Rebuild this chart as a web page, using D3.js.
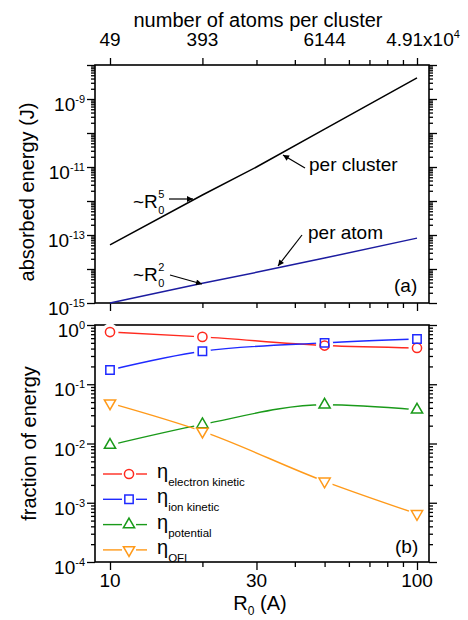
<!DOCTYPE html>
<html>
<head>
<meta charset="utf-8">
<script src="https://cdn.jsdelivr.net/npm/d3@7"></script>
<style>
  body { margin: 0; background: white; }
  text { font-family: "Liberation Sans", Arial, Helvetica, sans-serif; }
</style>
</head>
<body>
<div id="chart"></div>
<script>
// panel (a): absorbed energy vs cluster radius
const energyRadius = [10, 20, 30, 50, 100];
const perCluster = [5.1e-14, 1.5e-12, 1.0e-11, 1.3e-10, 4.2e-9];
const perAtom = [1.0e-15, 3.8e-15, 8.0e-15, 2.1e-14, 8.1e-14];

// top axis: number of atoms per cluster at given radii
const atomRadius = [10, 20, 50, 100];
const atomLabels = [["49", ""], ["393", ""], ["6144", ""], ["4.91x10", "4"]];

const energyTicks = [1e-15, 1e-13, 1e-11, 1e-9];

// panel (b): fraction of energy
const fracRadius = [10, 20, 50, 100];
const etaElectron = [0.76, 0.63, 0.45, 0.41];
const etaIon = [0.174, 0.36, 0.50, 0.58];
const etaPotential = [0.0094, 0.021, 0.045, 0.037];
const etaOFI = [0.048, 0.016, 0.0023, 0.00065];

const fracTicks = [1, 1e-1, 1e-2, 1e-3, 1e-4];
const radiusTicks = [10, 30, 100];

const seriesNames = ["electron kinetic", "ion kinetic", "potential", "OFI"];
const seriesColors = ["#ff2a1f", "#1f2aff", "#1a9a1a", "#ff9a1a"];
const seriesValues = [etaElectron, etaIon, etaPotential, etaOFI];

function draw() {
  const W = 468, H = 620;
  const L = 95, Rt = 429;
  const aTop = 65, aBot = 303;
  const bTop = 325, bBot = 562;

  const svg = d3.select("#chart").append("svg")
    .attr("width", W).attr("height", H);

  const x = d3.scaleLog().domain([10, 100]).range([110, 417]);
  const yA = d3.scaleLog().domain([1e-15, 1e-8]).range([aBot, aTop]);
  const yB = d3.scaleLog().domain([1e-4, 1]).range([bBot, bTop]);

  const isMajor = d => Math.abs(Math.log10(d) - Math.round(Math.log10(d))) < 1e-6;

  function styleAxis(g, longT, shortT, sign, vertical, majorFn) {
    g.select(".domain").remove();
    g.selectAll(".tick line")
      .attr("stroke", "#000").attr("stroke-width", 1.3)
      .attr(vertical ? "x2" : "y2", d => sign * (majorFn(d) ? longT : shortT));
  }

  function powLabel(g, px, py, base, exp, anchor) {
    const t = g.append("text")
      .attr("x", px).attr("y", py)
      .attr("text-anchor", anchor)
      .style("font-size", "19px");
    t.append("tspan").text(base);
    if (exp !== "") {
      t.append("tspan").attr("dy", -8).style("font-size", "11px").text(exp);
    }
  }

  // ---------- panel (a) ----------
  const ga = svg.append("g");

  ga.append("g").attr("transform", `translate(${L},0)`)
    .call(d3.axisLeft(yA).tickValues(yA.ticks()).tickFormat(""))
    .call(g => styleAxis(g, 8, 4, -1, true, isMajor));
  ga.append("g").attr("transform", `translate(${Rt},0)`)
    .call(d3.axisRight(yA).tickValues(yA.ticks()).tickFormat(""))
    .call(g => styleAxis(g, 8, 4, 1, true, isMajor));
  ga.append("g").attr("transform", `translate(0,${aBot})`)
    .call(d3.axisBottom(x).tickValues(x.ticks()).tickFormat(""))
    .call(g => styleAxis(g, 8, 5, 1, false, d => d === 10 || d === 100));
  ga.append("g").attr("transform", `translate(0,${aTop})`)
    .call(d3.axisTop(x).tickValues(x.ticks()).tickFormat(""))
    .call(g => styleAxis(g, 7, 5, -1, false, d => atomRadius.includes(d)));

  ga.append("rect")
    .attr("x", L).attr("y", aTop).attr("width", Rt - L).attr("height", aBot - aTop)
    .attr("fill", "none").attr("stroke", "#000").attr("stroke-width", 1.6);

  energyTicks.forEach(v => powLabel(ga, 85, yA(v) + 12, "10", String(Math.round(Math.log10(v))), "end"));

  atomRadius.forEach((r, i) => {
    // the last label is wider, its centre sits a bit right of the tick
    powLabel(ga, x(r) + (i === 3 ? 6 : 0), 46, atomLabels[i][0], atomLabels[i][1], "middle");
  });

  ga.append("text")
    .attr("x", 258).attr("y", 27).attr("text-anchor", "middle")
    .style("font-size", "20px").text("number of atoms per cluster");

  ga.append("text")
    .attr("transform", `translate(34,${(aTop + aBot) / 2 + 8}) rotate(-90)`)
    .attr("text-anchor", "middle").style("font-size", "20px")
    .text("absorbed energy (J)");

  const lineA = d3.line().x(d => x(d[0])).y(d => yA(d[1]));
  ga.append("path")
    .attr("d", lineA(d3.zip(energyRadius, perCluster)))
    .attr("fill", "none").attr("stroke", "#000").attr("stroke-width", 1.5);
  ga.append("path")
    .attr("d", lineA(d3.zip(energyRadius, perAtom)))
    .attr("fill", "none").attr("stroke", "#1c1ca0").attr("stroke-width", 1.5);

  // annotations
  svg.append("defs").append("marker")
    .attr("id", "arr").attr("viewBox", "0 0 10 10")
    .attr("refX", 10).attr("refY", 5)
    .attr("markerWidth", 8).attr("markerHeight", 6)
    .attr("markerUnits", "userSpaceOnUse")
    .attr("orient", "auto")
    .append("path").attr("d", "M0,0 L10,5 L0,10 z").attr("fill", "#000");

  const arrows = [[169, 199, 193, 199], [170, 275, 202, 284], [305, 168, 283, 155], [302, 235, 278, 266]];
  arrows.forEach(a => {
    ga.append("line")
      .attr("x1", a[0]).attr("y1", a[1]).attr("x2", a[2]).attr("y2", a[3])
      .attr("stroke", "#000").attr("stroke-width", 1.2)
      .attr("marker-end", "url(#arr)");
  });

  function rLabel(px, py, sup) {
    const t = ga.append("text").attr("x", px).attr("y", py).style("font-size", "19px");
    t.append("tspan").text("~R");
    const sx = px + t.node().getComputedTextLength() + 0.5;
    ga.append("text").attr("x", sx).attr("y", py - 10).style("font-size", "11px").text(sup);
    ga.append("text").attr("x", sx).attr("y", py + 6).style("font-size", "11px").text("0");
  }
  rLabel(133, 208, "5");
  rLabel(133, 281, "2");

  ga.append("text").attr("x", 309).attr("y", 171).style("font-size", "19px").text("per cluster");
  ga.append("text").attr("x", 308).attr("y", 239).style("font-size", "19px").text("per atom");
  ga.append("text").attr("x", 394).attr("y", 292).style("font-size", "19px").text("(a)");

  // ---------- panel (b) ----------
  const gb = svg.append("g");

  gb.append("g").attr("transform", `translate(${L},0)`)
    .call(d3.axisLeft(yB).tickValues(yB.ticks()).tickFormat(""))
    .call(g => styleAxis(g, 8, 4, -1, true, isMajor));
  gb.append("g").attr("transform", `translate(${Rt},0)`)
    .call(d3.axisRight(yB).tickValues(yB.ticks()).tickFormat(""))
    .call(g => styleAxis(g, 8, 4, 1, true, isMajor));
  gb.append("g").attr("transform", `translate(0,${bBot})`)
    .call(d3.axisBottom(x).tickValues(x.ticks()).tickFormat(""))
    .call(g => styleAxis(g, 8, 5, 1, false, d => radiusTicks.includes(d)));

  gb.append("rect")
    .attr("x", L).attr("y", bTop).attr("width", Rt - L).attr("height", bBot - bTop)
    .attr("fill", "none").attr("stroke", "#000").attr("stroke-width", 1.6);

  fracTicks.forEach(v => powLabel(gb, 85, yB(v) + 12, "10", String(Math.round(Math.log10(v))), "end"));
  radiusTicks.forEach(v => {
    gb.append("text").attr("x", x(v)).attr("y", 587)
      .attr("text-anchor", "middle").style("font-size", "19px").text(v);
  });

  const xl = gb.append("text").attr("x", 260).attr("y", 610)
    .attr("text-anchor", "middle").style("font-size", "20px");
  xl.append("tspan").text("R");
  xl.append("tspan").attr("dy", 5).style("font-size", "12px").text("0");
  xl.append("tspan").attr("dy", -5).text(" (A)");

  gb.append("text")
    .attr("transform", `translate(36,${(bTop + bBot) / 2}) rotate(-90)`)
    .attr("text-anchor", "middle").style("font-size", "20px")
    .text("fraction of energy");

  svg.append("defs").append("clipPath").attr("id", "clipB")
    .append("rect").attr("x", L).attr("y", bTop).attr("width", Rt - L).attr("height", bBot - bTop);

  const symbols = [
    d3.symbol().type(d3.symbolCircle).size(66),
    d3.symbol().type(d3.symbolSquare).size(70),
    d3.symbol().type(d3.symbolTriangle).size(55),
    d3.symbol().type(d3.symbolTriangle).size(55)
  ];
  const rot = i => (i === 3 ? " rotate(180)" : "");

  const lineB = d3.line().x(d => x(d[0])).y(d => yB(d[1])).curve(d3.curveMonotoneX);

  seriesValues.forEach((vals, i) => {
    gb.append("path")
      .attr("d", lineB(d3.zip(fracRadius, vals)))
      .attr("fill", "none").attr("stroke", seriesColors[i]).attr("stroke-width", 1.4);
  });
  seriesValues.forEach((vals, i) => {
    gb.append("g").selectAll("circle")
      .data(d3.zip(fracRadius, vals))
      .join("circle")
      .attr("cx", d => x(d[0])).attr("cy", d => yB(d[1]))
      .attr("r", 8.5).attr("fill", "white");
  });
  seriesValues.forEach((vals, i) => {
    gb.append("g").selectAll("path")
      .data(d3.zip(fracRadius, vals))
      .join("path")
      .attr("transform", d => `translate(${x(d[0])},${yB(d[1])})${rot(i)}`)
      .attr("d", symbols[i]())
      .attr("fill", "none").attr("stroke", seriesColors[i]).attr("stroke-width", 1.5);
  });

  // legend
  const leg = gb.append("g").attr("clip-path", "url(#clipB)");
  seriesNames.forEach((name, i) => {
    const ly = 474 + i * 25.3;
    leg.append("line").attr("x1", 103).attr("x2", 122).attr("y1", ly).attr("y2", ly)
      .attr("stroke", seriesColors[i]).attr("stroke-width", 1.4);
    leg.append("line").attr("x1", 136).attr("x2", 147).attr("y1", ly).attr("y2", ly)
      .attr("stroke", seriesColors[i]).attr("stroke-width", 1.4);
    leg.append("path")
      .attr("transform", `translate(129,${ly})${rot(i)}`)
      .attr("d", symbols[i]())
      .attr("fill", "none").attr("stroke", seriesColors[i]).attr("stroke-width", 1.5);
    const t = leg.append("text").attr("x", 157).attr("y", ly + 4).style("font-size", "20px");
    t.append("tspan").text("η");
    t.append("tspan").attr("dy", 8).style("font-size", "11.5px").text(name);
  });

  gb.append("text").attr("x", 395).attr("y", 553).style("font-size", "19px").text("(b)");
}

window.onload = function () {
  draw();
};
</script>
</body>
</html>
